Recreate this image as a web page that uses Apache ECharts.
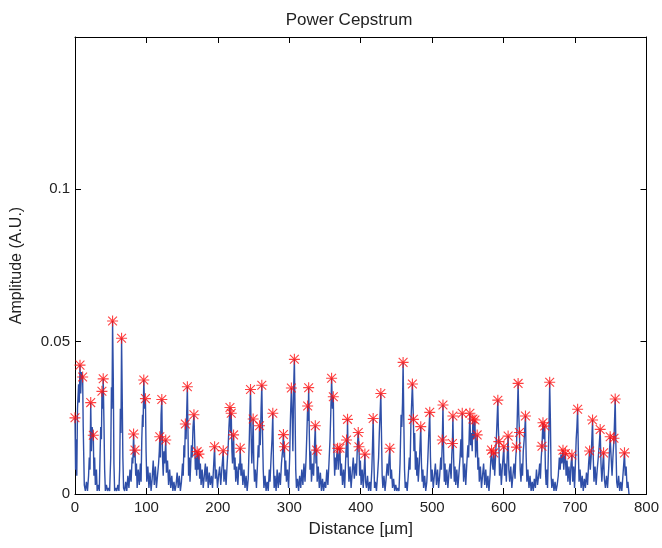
<!DOCTYPE html>
<html>
<head>
<meta charset="utf-8">
<title>Power Cepstrum</title>
<script src="https://cdn.jsdelivr.net/npm/echarts@6.0.0/dist/echarts.min.js"></script>
<style>
    html, body { margin: 0; padding: 0; background: #fff; }
    #main { width: 662px; height: 548px; }
</style>
</head>
<body>
<div id="main"></div>
<script type="text/javascript">
// cepstrum trace, [distance um, amplitude]
var cepstrum = [
    [0,0.025],[0.8,0.008],[1.6,0.018],[2.5,0.006],[3.5,0.028],[5,0.036],[6,0.030],[7,0.0423],[8,0.033],[9,0.040],[10.7,0.0384],[11.5,0.022],[12.3,0.012],[13,0.003],[14.5,0.001],[16,0.004],[17.5,0.001],[19,0.006],[20,0.012],[21,0.008],[22,0.030],[23,0.014],[24,0.022],[25.6,0.0193],[26.5,0.006],[27.5,0.012],[28.5,0.003],[30,0.008],[31,0.001],[32.5,0.003],[34,0.001],[35,0.012],[36,0.022],[37,0.018],[37.7,0.0337],[38.6,0.028],[39.5,0.0378],[40.5,0.024],[41.5,0.008],[42.5,0.001],[44,0.003],[45.5,0.001],[47,0.002],[48.5,0.001],[50,0.012],[51,0.035],[51.8,0.028],[52.6,0.0568],[53.6,0.038],[54.5,0.010],[55.5,0.001],[57,0.002],[58.5,0.001],[60,0.003],[61.5,0.001],[62.5,0.008],[63.5,0.028],[64.3,0.020],[65.2,0.0511],[66.2,0.030],[67,0.012],[68,0.002],[69.5,0.001],[71,0.004],[72.5,0.001],[74,0.006],[75.5,0.002],[77,0.008],[78.5,0.004],[80,0.012],[81,0.010],[82,0.0197],[83,0.012],[84,0.0144],[85,0.006],[86,0.010],[87,0.002],[88.5,0.008],[90,0.003],[91.5,0.010],[92.5,0.004],[93.5,0.018],[94.5,0.026],[95.3,0.022],[96.3,0.0374],[97.5,0.028],[98.6,0.0313],[99.5,0.014],[100.5,0.004],[102,0.009],[103.5,0.002],[105,0.007],[106.5,0.001],[108,0.005],[109.5,0.011],[111,0.003],[112.5,0.009],[114,0.002],[115.5,0.006],[117,0.010],[118,0.014],[118.7,0.0188],[119.5,0.012],[120.5,0.026],[121.5,0.031],[122.5,0.012],[123.5,0.006],[124.5,0.014],[125.5,0.010],[127,0.0177],[128,0.007],[129.5,0.011],[131,0.003],[132.5,0.008],[134,0.002],
    [135.5,0.006],[137,0.001],[138.5,0.004],[140,0.001],[141.5,0.003],[143,0.007],[144.5,0.002],[146,0.006],[147.5,0.001],[149,0.004],[150.5,0.010],[151.5,0.006],[152.5,0.016],[153.5,0.012],[154.5,0.023],[155.5,0.018],[156.5,0.028],[157.3,0.0352],[158.2,0.020],[159,0.006],[160,0.012],[161,0.004],[162,0.010],[163,0.016],[164,0.012],[165.2,0.022],[166.5,0.026],[167.5,0.018],[168.5,0.008],[169.5,0.012],[170.3,0.006],[171,0.0139],[172,0.008],[172.8,0.012],[173.5,0.0131],[174.5,0.005],[175.5,0.010],[176.5,0.003],[178,0.008],[179.5,0.002],[181,0.006],[182.5,0.010],[183.5,0.004],[185,0.009],[186.5,0.002],[188,0.007],[189.5,0.003],[191,0.006],[192.5,0.002],[194,0.009],[195.4,0.0155],[196.5,0.005],[198,0.008],[199.5,0.002],[201,0.006],[202.5,0.009],[204,0.003],[205.5,0.008],[206.5,0.011],[207.5,0.0142],[208.5,0.004],[210,0.008],[211.5,0.003],[213,0.010],[214.5,0.016],[215.5,0.022],[216.9,0.0284],[217.8,0.020],[218.7,0.0265],[219.7,0.014],[220.5,0.010],[221.3,0.016],[222,0.0194],[223,0.008],[224,0.012],[225,0.004],[226.5,0.009],[228,0.003],[229.5,0.010],[230.5,0.008],[231.3,0.015],[232.3,0.006],[233.5,0.010],[235,0.003],[236.5,0.008],[238,0.002],[239.5,0.006],[241,0.001],[242.5,0.005],[244,0.018],[245,0.028],[245.7,0.0343],[246.7,0.018],[247.5,0.010],[248.5,0.016],[249.4,0.0246],[250.3,0.010],[251.3,0.004],[252.5,0.008],[254,0.002],[255.5,0.010],[256.5,0.016],[257.5,0.012],[258.3,0.0224],[259.3,0.016],[260.5,0.028],[261.5,0.0357],[262.5,0.020],[263.5,0.008],[264.5,0.002],
    [266,0.006],[267.5,0.001],[269,0.004],[270.5,0.001],[272,0.008],[273,0.004],[274.5,0.012],[275.8,0.018],[276.9,0.0265],[277.8,0.010],[278.8,0.002],[280,0.006],[281.5,0.001],[283,0.008],[284.5,0.002],[286,0.007],[287.5,0.003],[289,0.010],[290.5,0.014],[291.8,0.0195],[292.5,0.012],[293.2,0.0155],[294,0.006],[295,0.011],[296,0.004],[297.5,0.008],[299,0.002],[300.5,0.012],[301.5,0.024],[302.9,0.0348],[304,0.026],[305,0.014],[306,0.034],[307.1,0.0442],[308,0.028],[309,0.008],[310,0.002],[311.5,0.005],[313,0.001],[314.5,0.006],[316,0.002],[317.5,0.008],[319,0.003],[320.5,0.010],[322,0.004],[323.5,0.012],[324.6,0.020],[325.7,0.0289],[326.4,0.024],[327.1,0.0349],[328,0.020],[329,0.008],[330,0.014],[331,0.004],[332.5,0.010],[334,0.006],[335.3,0.016],[336.4,0.0224],[337.3,0.010],[338.2,0.0144],[339,0.004],[340.5,0.009],[342,0.002],[343.5,0.007],[345,0.001],[346.5,0.005],[348,0.001],[349.5,0.004],[351,0.002],[352.5,0.008],[354,0.003],[355.5,0.010],[357,0.018],[358,0.026],[359.2,0.038],[360.4,0.028],[361.6,0.0319],[362.5,0.014],[363.5,0.006],[364.5,0.012],[365.5,0.008],[366.5,0.013],[367.6,0.015],[368.5,0.008],[369.5,0.012],[370.9,0.015],[371.8,0.006],[373,0.010],[374.5,0.003],[376,0.008],[377.5,0.002],[379,0.012],[380.1,0.0177],[380.8,0.012],[381.5,0.0245],[382.5,0.010],[383.5,0.004],[385,0.009],[386.5,0.002],[388,0.007],[389.5,0.012],[391,0.005],[392.5,0.010],[394,0.006],[395.3,0.016],[396.5,0.0202],[397.5,0.0155],[398.5,0.006],
    [399.5,0.011],[400.5,0.003],[402,0.008],[403.5,0.002],[405,0.009],[405.8,0.0131],[406.8,0.004],[408,0.002],[409.5,0.006],[411,0.001],[412.5,0.004],[414,0.001],[415.5,0.008],[416.5,0.016],[417.4,0.0248],[418.3,0.012],[419.3,0.002],[420.5,0.004],[422,0.001],[423.5,0.006],[425,0.012],[426,0.020],[427,0.026],[428.1,0.033],[429,0.020],[430,0.006],[431,0.002],[432.5,0.006],[434,0.001],[435.5,0.005],[437,0.010],[438.5,0.006],[439.7,0.012],[440.7,0.015],[441.7,0.005],[443,0.008],[444.5,0.002],[446,0.005],[447.5,0.001],[449,0.003],[450.5,0.001],[452,0.002],[453.5,0.001],[455,0.010],[456.5,0.026],[457.5,0.022],[458.5,0.030],[459.3,0.0432],[460.3,0.024],[461.3,0.008],[462.3,0.002],[463.5,0.004],[465,0.001],[466.5,0.006],[468,0.012],[469,0.008],[470.3,0.024],[471.3,0.030],[472.3,0.0361],[473.7,0.0245],[474.5,0.014],[475.5,0.020],[476.5,0.008],[477.5,0.014],[478.5,0.006],[479.5,0.012],[480.5,0.004],[482,0.010],[483,0.016],[484,0.0221],[485,0.010],[486,0.004],[487,0.008],[488,0.002],[489.5,0.006],[491,0.001],[492.5,0.004],[494,0.012],[495.3,0.020],[496.6,0.0268],[497.6,0.012],[498.6,0.004],[500,0.008],[501.5,0.002],[503,0.006],[504.5,0.010],[506,0.003],[507.5,0.008],[509,0.002],[510.5,0.006],[512,0.012],[513,0.008],[514.2,0.0177],[515.1,0.0292],[516,0.014],[517,0.004],[518,0.010],[519,0.003],[520.5,0.008],[522,0.002],[523.5,0.007],[525,0.010],[526.5,0.005],[527.5,0.013],[528.3,0.0166],[529,0.0256],[530,0.012],[531,0.004],[532,0.009],[533,0.003],[534.5,0.008],
    [536,0.002],[537.5,0.007],[539,0.012],[540.2,0.018],[541.2,0.012],[542.1,0.0265],[543,0.012],[544,0.004],[545.5,0.010],[547,0.003],[548.5,0.010],[550,0.016],[551,0.012],[551.9,0.020],[552.8,0.0265],[553.8,0.016],[555,0.020],[556,0.014],[557,0.0246],[558,0.018],[558.9,0.022],[559.8,0.0243],[560.8,0.012],[562,0.016],[563,0.0194],[564,0.008],[565,0.012],[566,0.004],[567.5,0.009],[569,0.002],[570.5,0.006],[572,0.010],[573.5,0.003],[575,0.008],[576.5,0.002],[578,0.006],[579.5,0.001],[581,0.006],[582,0.011],[583.1,0.0144],[584.2,0.010],[585.3,0.008],[586.3,0.0135],[587.5,0.006],[588.7,0.012],[589.8,0.018],[590.8,0.024],[591.9,0.0308],[592.6,0.022],[593.3,0.0172],[594.3,0.006],[595.5,0.010],[596.8,0.003],[598,0.008],[599.2,0.012],[600.3,0.0155],[601.3,0.006],[602.5,0.010],[603.8,0.004],[605,0.012],[606.3,0.019],[607.3,0.008],[608.5,0.004],[610,0.009],[611.5,0.002],[613,0.006],[614.5,0.010],[616,0.005],[617,0.012],[618,0.0154],[619,0.024],[620.3,0.0363],[621.2,0.026],[622.2,0.0202],[623.2,0.008],[624.3,0.004],[625.5,0.010],[626.5,0.006],[627.5,0.014],[628.8,0.018],[629.8,0.022],[630.6,0.0256],[631.6,0.012],[632.6,0.004],[634,0.008],[635.5,0.002],[637,0.006],[638.5,0.001],[640,0.004],[641.5,0.001],[643,0.005],[644.5,0.002],[646,0.008],[647.5,0.003],[649,0.006],[650.5,0.010],[651.5,0.005],[652.7,0.012],[653.7,0.0157],[654.4,0.020],[655.1,0.0234],[656.3,0.018],[657.5,0.0223],[658.5,0.008],[659.5,0.003],[660.5,0.008],[661.5,0.002],[662.5,0.012],[663.5,0.022],[664.5,0.0367],[665.5,0.024],[666.5,0.006],
    [667.5,0.002],[669,0.005],[670.5,0.001],[672,0.004],[673.5,0.001],[675,0.003],[676.5,0.006],[678,0.012],[679.2,0.008],[680.3,0.013],[681.5,0.010],[683.1,0.0144],[684.2,0.008],[685.3,0.012],[686.4,0.0133],[687.5,0.006],[688.8,0.011],[690,0.004],[691.5,0.009],[693,0.003],[694.4,0.010],[695.6,0.0128],[696.7,0.004],[698,0.009],[699.3,0.002],[700.5,0.010],[701.6,0.018],[702.6,0.022],[703.6,0.0278],[704.6,0.014],[705.6,0.004],[707,0.008],[708.5,0.002],[710,0.006],[711.5,0.001],[713,0.005],[714.5,0.002],[716,0.007],[717.5,0.003],[719,0.010],[720.3,0.0141],[721.3,0.008],[722.5,0.012],[723.5,0.018],[724.5,0.0243],[725.5,0.012],[726.5,0.004],[728,0.009],[729.5,0.003],[731,0.008],[732.5,0.012],[733.8,0.016],[735.2,0.0212],[736.3,0.010],[737.5,0.004],[738.7,0.009],[739.9,0.0135],[741,0.005],[742.5,0.002],[744,0.006],[745.5,0.002],[747,0.008],[748.2,0.014],[749.2,0.0188],[750.5,0.012],[751.8,0.006],[753,0.012],[754.5,0.0183],[755.3,0.024],[756.2,0.0312],[757.2,0.016],[758.3,0.004],[759.5,0.002],[761,0.006],[762.5,0.001],[764,0.004],[765.5,0.001],[767,0.006],[768.2,0.010],[769.2,0.0135],[770.3,0.006],[771.5,0.009],[772.8,0.002],[774,0.004],[775.5,0]
];

// detected peaks (red stars)
var peakDist = [0,7,10.7,22,25.6,37.7,39.5,52.6,65.2,82,84,96.3,98.6,118.7,121.5,127,154.5,157.3,166.5,171,173.5,195.4,207.5,216.9,218.7,222,231.3,245.7,249.4,258.3,261.5,276.9,291.8,293.2,302.9,307.1,325.7,327.1,336.4,338.2,359.2,361.6,367.6,370.9,380.1,381.5,396.5,397.5,405.8,417.4,428.1,440.7,459.3,472.3,473.7,484,496.6,514.2,515.1,528.3,529,542.1,552.8,557,559.8,563,583.1,586.3,591.9,593.3,600.3,606.3,618,620.3,622.2,630.6,653.7,655.1,657.5,664.5,683.1,686.4,695.6,703.6,720.3,724.5,735.2,739.9,749.2,754.5,756.2,769.2];
var peakAmp = [0.025,0.0423,0.0384,0.030,0.0193,0.0337,0.0378,0.0568,0.0511,0.0197,0.0144,0.0374,0.0313,0.0188,0.031,0.0177,0.023,0.0352,0.026,0.0139,0.0131,0.0155,0.0142,0.0284,0.0265,0.0194,0.015,0.0343,0.0246,0.0224,0.0357,0.0265,0.0195,0.0155,0.0348,0.0442,0.0289,0.0349,0.0224,0.0144,0.038,0.0319,0.015,0.015,0.0177,0.0245,0.0202,0.0155,0.0131,0.0248,0.033,0.015,0.0432,0.0361,0.0245,0.0221,0.0268,0.0177,0.0292,0.0166,0.0256,0.0265,0.0265,0.0246,0.0243,0.0194,0.0144,0.0135,0.0308,0.0172,0.0155,0.019,0.0154,0.0363,0.0202,0.0256,0.0157,0.0234,0.0223,0.0367,0.0144,0.0133,0.0128,0.0278,0.0141,0.0243,0.0212,0.0135,0.0188,0.0183,0.0312,0.0135];

var xTicks = [0, 800, 100];
var yTicks = [0, 0.15, 0.05];

var peaks = [];
for (var i = 0; i < peakDist.length; i++) {
    peaks.push([peakDist[i], peakAmp[i]]);
}

// matlab style '*' marker
var starPath = 'path://M0 9H20V11H0Z M9 0H11V20H9Z M1.3 2.7L2.7 1.3L18.7 17.3L17.3 18.7Z M17.3 1.3L18.7 2.7L2.7 18.7L1.3 17.3Z';

var textColor = '#222';
var fontName = '"Liberation Sans", Arial, sans-serif';

function boxAxis(pos, isX, showLabel, ticks) {
    return {
        type: 'value',
        position: pos,
        min: ticks[0],
        max: ticks[1],
        interval: ticks[2],
        axisLine: { show: true, onZero: false, lineStyle: { color: '#000', width: 1 } },
        axisTick: { show: true, inside: true, length: 6, lineStyle: { color: '#000' } },
        splitLine: { show: false },
        axisLabel: {
            show: showLabel,
            color: textColor,
            fontSize: 15,
            fontFamily: fontName,
            margin: isX ? 6 : 5,
            formatter: function (v) {
                if (!isX && v >= 0.149) return '';
                return String(v);
            }
        }
    };
}

var xBottom = boxAxis('bottom', true, true, xTicks);
xBottom.name = 'Distance [\u00b5m]';
xBottom.nameLocation = 'middle';
xBottom.nameGap = 27;
xBottom.nameTextStyle = { color: textColor, fontSize: 17, fontFamily: fontName };

var yLeft = boxAxis('left', false, true, yTicks);
yLeft.name = 'Amplitude (A.U.)';
yLeft.nameLocation = 'middle';
yLeft.nameGap = 50;
yLeft.nameTextStyle = { color: textColor, fontSize: 16, fontFamily: fontName };

var option = {
    animation: false,
    backgroundColor: '#fff',
    title: {
        text: 'Power Cepstrum',
        left: 344,
        top: 7,
        textAlign: 'center',
        textStyle: { color: textColor, fontSize: 17, fontWeight: 'normal', fontFamily: fontName }
    },
    grid: { left: 75, right: 13, top: 37, bottom: 54, containLabel: false },
    xAxis: [xBottom, boxAxis('top', true, false, xTicks)],
    yAxis: [yLeft, boxAxis('right', false, false, yTicks)],
    series: [
        {
            name: 'cepstrum',
            type: 'line',
            data: cepstrum,
            showSymbol: false,
            symbol: 'none',
            sampling: null,
            clip: true,
            lineStyle: { color: '#2f4fa8', width: 1.4 },
            z: 2
        },
        {
            name: 'peaks',
            type: 'scatter',
            data: peaks,
            symbol: starPath,
            symbolSize: 11,
            itemStyle: { color: '#ff1010' },
            z: 3
        }
    ]
};

var chart = echarts.init(document.getElementById('main'), null, { renderer: 'canvas' });
chart.setOption(option);
</script>
</body>
</html>
